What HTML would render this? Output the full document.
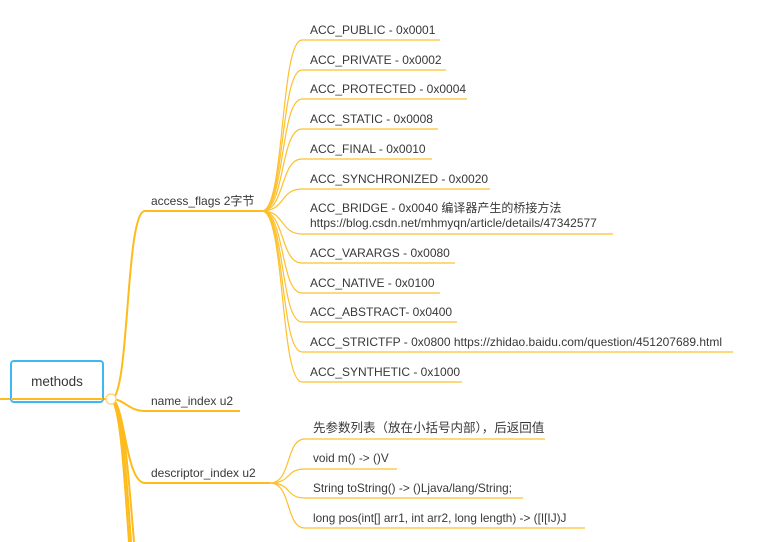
<!DOCTYPE html>
<html><head><meta charset="utf-8"><style>
html,body{margin:0;padding:0;background:#fff;width:777px;height:542px;overflow:hidden}
svg text{font-family:"Liberation Sans","Noto Sans CJK SC",sans-serif;fill:#383838}
</style></head><body>
<svg width="777" height="542" viewBox="0 0 777 542" xmlns="http://www.w3.org/2000/svg">
<g fill="none" stroke="#fdc02e" stroke-width="1.2">
<path d="M262,211 C285,211 280,40 302,40 L440,40"/>
<path d="M262,211 C285,211 280,70 302,70 L446,70"/>
<path d="M262,211 C285,211 280,99 302,99 L467,99"/>
<path d="M262,211 C285,211 280,129 302,129 L438,129"/>
<path d="M262,211 C285,211 280,159 302,159 L432,159"/>
<path d="M262,211 C285,211 280,189 302,189 L490,189"/>
<path d="M262,211 C285,211 280,234 302,234 L613,234"/>
<path d="M262,211 C285,211 280,263 302,263 L455,263"/>
<path d="M262,211 C285,211 280,293 302,293 L440,293"/>
<path d="M262,211 C285,211 280,322 302,322 L457,322"/>
<path d="M262,211 C285,211 280,352 302,352 L733,352"/>
<path d="M262,211 C285,211 280,382 302,382 L462,382"/>
<path d="M270,483 C292,483 285,439 305,439 L545,439"/>
<path d="M270,483 C292,483 285,469 305,469 L397,469"/>
<path d="M270,483 C292,483 285,498 305,498 L523,498"/>
<path d="M270,483 C292,483 285,528 305,528 L585,528"/>
</g>
<g fill="none" stroke="#fdbb1c" stroke-width="2">
<path d="M0,399 L106,399"/>
<path d="M111,399 C130,399 125,211 145,211 L262,211"/>
<path d="M111,399 C125,399 128,411 145,411 L240,411"/>
<path d="M111,399 C125,399 125,483 145,483 L270,483"/>
<path d="M111,399 C122,405 126,470 131,542"/>
<path d="M111,399 C120,405 124,470 129,542"/>
<path d="M111,399 C124,405 128,470 134,542"/>
</g>
<rect x="11" y="361" width="92" height="41" rx="3" fill="none" stroke="#3fb7f2" stroke-width="2"/>
<path d="M11,399 L103,399" stroke="#fdbb1c" stroke-width="2"/>
<circle cx="111" cy="399" r="5" fill="#fff" stroke="#fdd36a" stroke-width="1.2"/>
<text x="57" y="386" font-size="13.5" text-anchor="middle">methods</text>
<g font-size="12">
<text x="151" y="205">access_flags 2字节</text>
<text x="151" y="405">name_index u2</text>
<text x="151" y="477">descriptor_index u2</text>
</g>
<g font-size="12">
<text x="310" y="34">ACC_PUBLIC - 0x0001</text>
<text x="310" y="64">ACC_PRIVATE - 0x0002</text>
<text x="310" y="93">ACC_PROTECTED - 0x0004</text>
<text x="310" y="123">ACC_STATIC - 0x0008</text>
<text x="310" y="153">ACC_FINAL - 0x0010</text>
<text x="310" y="183">ACC_SYNCHRONIZED - 0x0020</text>
<text x="310" y="212">ACC_BRIDGE - 0x0040 编译器产生的桥接方法</text>
<text x="310" y="227">https://blog.csdn.net/mhmyqn/article/details/47342577</text>
<text x="310" y="257">ACC_VARARGS - 0x0080</text>
<text x="310" y="287">ACC_NATIVE - 0x0100</text>
<text x="310" y="316">ACC_ABSTRACT- 0x0400</text>
<text x="310" y="346">ACC_STRICTFP - 0x0800 https://zhidao.baidu.com/question/451207689.html</text>
<text x="310" y="376">ACC_SYNTHETIC - 0x1000</text>
</g>
<g font-size="11.8">
<text x="313" y="432" font-size="12.5">先参数列表（放在小括号内部），后返回值</text>
<text x="313" y="462">void m() -&gt; ()V</text>
<text x="313" y="492">String toString() -&gt; ()Ljava/lang/String;</text>
<text x="313" y="522">long pos(int[] arr1, int arr2, long length) -&gt; ([I[IJ)J</text>
</g>
</svg>
</body></html>
